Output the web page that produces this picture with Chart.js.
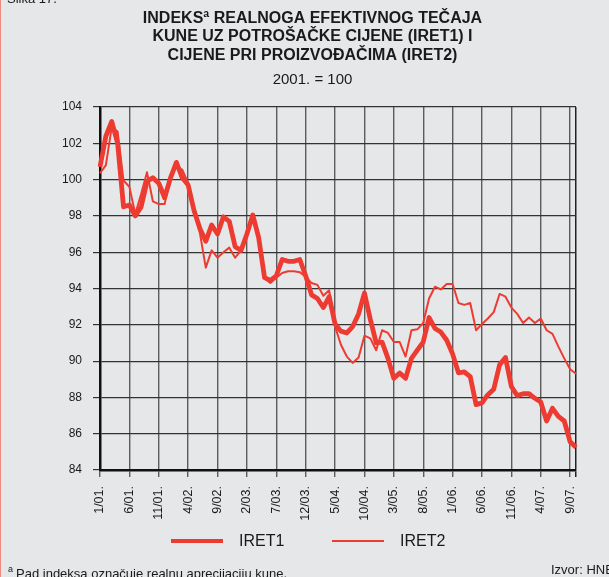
<!DOCTYPE html>
<html>
<head>
<meta charset="utf-8">
<script src="https://cdn.jsdelivr.net/npm/chart.js@4"></script>
<style>
  html, body { margin: 0; padding: 0; }
  body { width: 609px; height: 577px; overflow: hidden; background: #e6e7e9; position: relative;
         font-family: 'Liberation Sans', Arial, sans-serif; color: #1a1a1a; }
  #c { position: absolute; left: 0; top: 0; }
  .edge { position: absolute; left: 0; top: 0; width: 1px; height: 577px; background: #f08a80; }
  .note { position: absolute; font-size: 13px; line-height: 15px; white-space: nowrap; }
  .note sup { font-size: 9px; vertical-align: 6px; margin-right: 3px; }
  .lg-item { position: absolute; top: 531px; height: 20px; display: flex; align-items: center; white-space: nowrap; }
  .lg-line { width: 52px; margin-right: 16px; }
  .lg-text { font-size: 16px; line-height: 20px; }
</style>
</head>
<body>
<canvas id="c" width="609" height="577"></canvas>
<div class="edge"></div>
<div id="legend"></div>
<div class="note" style="left:7px; top:-9px;">Slika 17.</div>
<div class="note" style="left:8px; top:562px;"><sup>a</sup>Pad indeksa označuje realnu aprecijaciju kune.</div>
<div class="note" style="left:551px; top:562px;">Izvor: HNB</div>
<script>
const titleLines = ['INDEKSª REALNOGA EFEKTIVNOG TEČAJA', 'KUNE UZ POTROŠAČKE CIJENE (IRET1) I', 'CIJENE PRI PROIZVOĐAČIMA (IRET2)'];
const subtitleText = '2001. = 100';
const seriesNames = ['IRET1', 'IRET2'];

const months = [
  '1/01.','2/01.','3/01.','4/01.','5/01.','6/01.','7/01.','8/01.','9/01.','10/01.','11/01.','12/01.',
  '1/02.','2/02.','3/02.','4/02.','5/02.','6/02.','7/02.','8/02.','9/02.','10/02.','11/02.','12/02.',
  '1/03.','2/03.','3/03.','4/03.','5/03.','6/03.','7/03.','8/03.','9/03.','10/03.','11/03.','12/03.',
  '1/04.','2/04.','3/04.','4/04.','5/04.','6/04.','7/04.','8/04.','9/04.','10/04.','11/04.','12/04.',
  '1/05.','2/05.','3/05.','4/05.','5/05.','6/05.','7/05.','8/05.','9/05.','10/05.','11/05.','12/05.',
  '1/06.','2/06.','3/06.','4/06.','5/06.','6/06.','7/06.','8/06.','9/06.','10/06.','11/06.','12/06.',
  '1/07.','2/07.','3/07.','4/07.','5/07.','6/07.','7/07.','8/07.','9/07.','10/07.'
];

const iret1 = [
  100.7, 102.4, 103.2, 102.0, 98.5, 98.6, 98.0, 98.5, 99.9, 100.1, 99.8, 99.0,
  100.1, 100.95, 100.1, 99.7, 98.3, 97.3, 96.6, 97.5, 97.0, 97.95, 97.7, 96.3,
  96.1, 97.0, 98.05, 96.8, 94.6, 94.45, 94.7, 95.6, 95.5, 95.5, 95.6, 94.7,
  93.65, 93.45, 92.95, 93.55, 92.05, 91.65, 91.55, 91.9, 92.6, 93.75, 92.3, 91.0,
  91.05, 90.15, 89.05, 89.35, 89.05, 90.15, 90.6, 91.05, 92.4, 91.8, 91.6, 91.15,
  90.4, 89.35, 89.4, 89.15, 87.6, 87.7, 88.15, 88.45, 89.8, 90.2, 88.6, 88.1,
  88.2, 88.2, 87.95, 87.75, 86.7, 87.4, 86.95, 86.7, 85.55, 85.25
];

const iret2 = [
  100.35, 100.8, 102.9, 102.65, 99.95, 99.6, 98.1, 99.2, 100.4, 98.8, 98.65, 98.65,
  100.25, 100.7, 100.55, 99.8, 98.3, 97.05, 95.15, 96.1, 95.7, 96.0, 96.25, 95.7,
  96.1, 97.0, 98.05, 96.8, 94.55, 94.3, 94.6, 94.85, 94.95, 94.95, 94.9, 94.65,
  94.3, 94.2, 93.6, 93.9, 91.9, 90.9, 90.25, 89.9, 90.2, 91.4, 91.25, 90.6,
  91.7, 91.55, 91.05, 91.05, 90.25, 91.7, 91.75, 92.1, 93.45, 94.1, 93.95, 94.25,
  94.25, 93.2, 93.1, 93.2, 91.7, 92.05, 92.35, 92.7, 93.7, 93.55, 92.95, 92.6,
  92.1, 92.4, 92.1, 92.35, 91.7, 91.5, 90.8, 90.15, 89.55, 89.3
];

const yTicks = { min: 84, max: 104, step: 2 };
const labelEvery = 5;

Chart.defaults.font.family = "'Liberation Sans', Arial, sans-serif";
Chart.defaults.color = '#1a1a1a';

const red = '#ee3b32';

const chart = new Chart(document.getElementById('c'), {
  type: 'line',
  data: {
    labels: months,
    datasets: [
      { label: seriesNames[0], data: iret1, borderColor: red, backgroundColor: red, borderWidth: 4.8,
        pointRadius: 0, tension: 0, borderJoinStyle: 'round' },
      { label: seriesNames[1], data: iret2, borderColor: red, backgroundColor: red, borderWidth: 2,
        pointRadius: 0, tension: 0, borderJoinStyle: 'round' }
    ]
  },
  options: {
    responsive: false,
    animation: false,
    events: [],
    layout: { padding: { top: 0, left: 49, right: 33, bottom: 57 } },
    plugins: {
      title: {
        display: true, text: titleLines, color: '#1a1a1a',
        font: { size: 16, weight: 'bold', lineHeight: 1.15625 },
        padding: { top: 9, bottom: 0 }
      },
      subtitle: {
        display: true, text: subtitleText, color: '#1a1a1a',
        font: { size: 15, lineHeight: 1.2 },
        padding: { top: 6.5, bottom: 18 }
      },
      legend: { display: false },
      tooltip: { enabled: false }
    },
    scales: {
      x: {
        offset: false,
        afterFit: (s) => { s.height = 50; },
        grid: {
          color: (ctx) => ctx.index === months.length - 1 ? '#222' : (ctx.index % labelEvery === 0 ? '#5c5c5c' : 'rgba(0,0,0,0)'),
          lineWidth: (ctx) => ctx.index === months.length - 1 ? 1.5 : 1.4,
          tickLength: 7
        },
        border: { color: '#111', width: 2.5 },
        ticks: {
          autoSkip: false, maxRotation: 90, minRotation: 90, padding: 9,
          color: '#1a1a1a', font: { size: 12.5 },
          callback: (v, i) => (i % labelEvery === 0 ? months[i] : '')
        }
      },
      y: {
        min: yTicks.min, max: yTicks.max,
        afterFit: (s) => { s.width = 51; },
        grid: { color: '#333', lineWidth: 1.2, tickLength: 7 },
        border: { color: '#111', width: 2.5 },
        ticks: { stepSize: yTicks.step, padding: 11, color: '#1a1a1a', font: { size: 12 } }
      }
    }
  }
});

// HTML legend built from the chart's datasets
const legendX = [171, 332];
const legendEl = document.getElementById('legend');
chart.data.datasets.forEach((ds, i) => {
  const item = document.createElement('div');
  item.className = 'lg-item';
  item.style.left = legendX[i] + 'px';
  const line = document.createElement('div');
  line.className = 'lg-line';
  line.style.height = ds.borderWidth + 'px';
  line.style.background = ds.borderColor;
  const txt = document.createElement('span');
  txt.className = 'lg-text';
  txt.textContent = ds.label;
  item.appendChild(line);
  item.appendChild(txt);
  legendEl.appendChild(item);
});
</script>
</body>
</html>
